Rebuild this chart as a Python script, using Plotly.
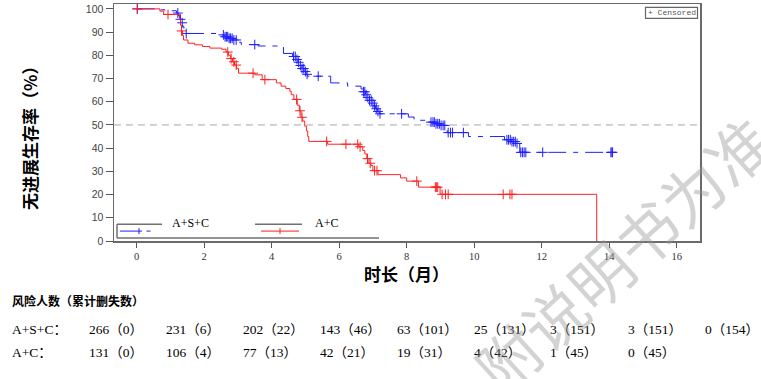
import plotly.graph_objects as go

# ---------------- data ----------------
# A+S+C Kaplan-Meier steps (time in months, survival %)
asc_t = [0, 0.54, 0.84, 1.18, 1.24, 1.28, 1.32, 1.36, 1.40, 1.46, 2.47, 2.60, 2.72, 2.85, 2.97, 3.10,
         3.60, 4.35, 4.62, 4.72, 4.78, 4.84, 4.90, 4.96, 5.02, 5.06, 5.75, 6.25, 6.65, 6.72, 6.78,
         6.84, 6.90, 6.96, 7.02, 7.08, 7.14, 7.20, 8.05, 8.22, 8.70, 8.85, 9.00, 9.15, 9.20, 9.83,
         10.90, 11.10, 11.25, 11.35, 14.10]
asc_s = [100, 99.6, 99.2, 98.2, 97.0, 95.5, 94.0, 92.5, 91.0, 89.4, 88.8, 88.0, 87.3, 86.6, 85.6, 84.6,
         84.0, 80.8, 79.5, 78.2, 77.0, 75.6, 74.3, 73.0, 71.8, 71.0, 68.1, 66.7, 65.5, 64.3, 63.0,
         61.8, 60.6, 59.4, 58.2, 57.0, 55.8, 54.8, 53.4, 52.0, 51.2, 50.5, 49.8, 49.2, 46.7, 45.0,
         43.6, 42.8, 42.0, 38.2, 38.2]
asc_cens = [0.02, 1.22, 1.30, 1.35, 1.47, 2.57, 2.62, 2.66, 2.70, 2.74, 2.78, 2.83, 2.88, 2.95, 3.50,
            4.65, 4.70, 4.75, 4.80, 4.85, 4.90, 4.95, 5.00, 5.05, 5.38, 6.72, 6.76, 6.80, 6.85, 6.90,
            6.95, 7.00, 7.05, 7.10, 7.15, 7.21, 7.85, 8.72, 8.78, 8.82, 8.87, 8.92, 8.97, 9.02, 9.08,
            9.13, 9.23, 9.30, 9.36, 9.68, 10.97, 11.02, 11.07, 11.12, 11.17, 11.22, 11.27, 11.38,
            11.43, 11.48, 11.53, 12.03, 14.05, 14.08, 14.10]

# A+C Kaplan-Meier steps
ac_t = [0, 0.69, 0.80, 1.28, 1.30, 1.33, 1.36, 1.39, 1.52, 1.72, 1.95, 2.17, 2.52, 2.65, 2.72, 2.78,
        2.84, 2.90, 2.96, 3.02, 3.50, 3.72, 4.14, 4.28, 4.42, 4.54, 4.58, 4.66, 4.76, 4.82, 4.87,
        4.92, 4.98, 5.03, 5.07, 5.10, 5.66, 6.58, 6.70, 6.76, 6.82, 6.88, 6.94, 7.00, 7.15, 7.82,
        8.00, 8.35, 8.99, 13.63]
ac_s = [100, 99.0, 97.6, 95.5, 93.0, 90.5, 88.5, 86.6, 85.2, 84.5, 83.8, 83.1, 82.6, 81.4, 80.0, 78.6,
        77.2, 75.8, 74.4, 72.3, 71.6, 69.5, 68.1, 66.7, 65.7, 64.5, 63.0, 61.0, 58.5, 56.1, 53.3,
        51.7, 49.5, 47.4, 45.0, 42.9, 41.7, 40.6, 39.0, 37.5, 35.5, 33.5, 32.5, 30.3, 28.6, 27.2,
        25.8, 23.2, 20.1, 0]
ac_cens = [0.02, 0.93, 1.33, 2.70, 2.80, 2.88, 2.95, 3.45, 3.80, 4.74, 4.84, 4.90, 5.63, 6.20, 6.55,
           6.62, 6.84, 6.92, 7.05, 7.12, 8.30, 8.85, 8.88, 8.92, 9.05, 9.15, 9.23, 10.86, 11.06, 11.12]

x_ticks = [0, 2, 4, 6, 8, 10, 12, 14, 16]
y_ticks = [0, 10, 20, 30, 40, 50, 60, 70, 80, 90, 100]

group_names = ["A+S+C", "A+C"]
asc_risk = [266, 231, 202, 143, 63, 25, 3, 3, 0]
asc_censn = [0, 6, 22, 46, 101, 131, 151, 151, 154]
ac_risk = [131, 106, 77, 42, 19, 4, 1, 0]
ac_censn = [0, 4, 13, 21, 31, 42, 45, 45]

BLUE = "#1f1fff"
RED = "#ff2020"

# ---------------- geometry helpers ----------------
W, H = 761, 379
PL, PR, PT, PB = 114, 700, 2, 241


def xp(px):
    return (px - PL) / (PR - PL)


def yp(py):
    return (PB - py) / (PB - PT)


def step_at(ts, ss, t):
    v = ss[0]
    for ti, si in zip(ts, ss):
        if ti <= t:
            v = si
    return v


fig = go.Figure()

fig.add_trace(go.Scatter(x=asc_t, y=asc_s, mode="lines", line_shape="hv",
                         line=dict(color=BLUE, width=1, dash="18px,7px,5px,7px"),
                         showlegend=False, hoverinfo="skip"))
fig.add_trace(go.Scatter(x=asc_cens, y=[step_at(asc_t, asc_s, t) for t in asc_cens], mode="markers",
                         marker=dict(symbol="cross-thin", size=7, line=dict(color=BLUE, width=1)),
                         showlegend=False))
fig.add_trace(go.Scatter(x=ac_t, y=ac_s, mode="lines", line_shape="hv",
                         line=dict(color=RED, width=1), showlegend=False, hoverinfo="skip"))
fig.add_trace(go.Scatter(x=ac_cens, y=[step_at(ac_t, ac_s, t) for t in ac_cens], mode="markers",
                         marker=dict(symbol="cross-thin", size=7, line=dict(color=RED, width=1)),
                         showlegend=False))

shapes = []
# 50% reference line
shapes.append(dict(type="line", xref="paper", yref="y", x0=0, x1=1, y0=50, y1=50,
                   line=dict(color="#a8a8a8", width=1, dash="7px,5px"), layer="below"))

GRAY = "#707070"


def seg(x0, y0, x1, y1, color, width):
    return dict(type="line", xref="paper", yref="paper", x0=xp(x0), x1=xp(x1), y0=yp(y0), y1=yp(y1),
                line=dict(color=color, width=width))


# legend frame pieces
shapes += [seg(117, 224, 117, 238, GRAY, 1.5), seg(117, 238, 379, 238, GRAY, 1.5),
           seg(117, 224, 162, 224, GRAY, 1.5), seg(255, 224, 302, 224, GRAY, 1.5)]
# legend samples
shapes += [seg(120, 231, 142, 231, BLUE, 1), seg(146.5, 231, 150.5, 231, BLUE, 1),
           seg(139, 228, 139, 234, BLUE, 1),
           seg(261, 231, 299, 231, RED, 1), seg(280, 228, 280, 234, RED, 1)]
# censored box
shapes.append(dict(type="rect", xref="paper", yref="paper", x0=xp(645.5), x1=xp(697.5), y0=yp(16.5), y1=yp(5.5),
                   line=dict(color="#666666", width=1.2), fillcolor="white"))


def label(text, px, py, size, family, xanchor="center", angle=0, color="black"):
    return dict(text=text, x=xp(px), y=yp(py), xref="paper", yref="paper", showarrow=False,
                xanchor=xanchor, yanchor="middle", textangle=angle,
                font=dict(family=family, size=size, color=color))


ann = []
ann.append(label("A+S+C", 190, 222.5, 12, "Liberation Serif"))
ann.append(label("A+C", 326.5, 222.5, 12, "Liberation Serif"))
ann.append(label("+ Censored", 671.5, 11, 8, "Liberation Mono", color="#555555"))
# axis titles
ann.append(label("<b>时长（月）</b>", 406, 274, 17, "Noto Sans CJK SC"))
ann.append(label("<b>无进展生存率（%）</b>", 30, 133, 17, "Noto Sans CJK SC", angle=-90))
# risk table
ann.append(label("<b>风险人数（累计删失数）</b>", 10, 301.5, 12, "Noto Sans CJK SC", xanchor="left"))
col_px = [87, 163.5, 241, 318, 395, 472, 548, 625.5, 703]
TF = "Liberation Serif, Noto Sans CJK SC"
for name, risk, cens, py in [(group_names[0], asc_risk, asc_censn, 330), (group_names[1], ac_risk, ac_censn, 353)]:
    ann.append(label(name + "：", 10, py, 13.5, TF, xanchor="left"))
    for r, c, cx in zip(risk, cens, col_px):
        ann.append(label(f"{r}（{c}）", cx, py, 13.5, TF, xanchor="left"))
# watermark
ann.append(label("附说明书为准", 622, 253, 62, "Noto Sans CJK SC", angle=-42.3,
                 color="rgba(150,150,150,0.42)"))

fig.update_layout(
    width=W, height=H,
    margin=dict(l=PL, r=W - PR, t=PT, b=H - PB),
    paper_bgcolor="white", plot_bgcolor="white",
    showlegend=False, hovermode=False,
    shapes=shapes, annotations=ann,
    xaxis=dict(range=[-0.67, 16.69], tickvals=x_ticks, ticktext=[str(v) for v in x_ticks],
               ticks="outside", ticklen=5, tickcolor="#555555", showline=True, mirror=True,
               linecolor="#6a6a6a", linewidth=1.5, showgrid=False, zeroline=False,
               tickfont=dict(family="Liberation Serif", size=10.5, color="#333333")),
    yaxis=dict(range=[0, 102.1], tickvals=y_ticks, ticktext=[str(v) for v in y_ticks],
               ticks="outside", ticklen=7, tickcolor="#555555", showline=True, mirror=True,
               linecolor="#6a6a6a", linewidth=1.5, showgrid=False, zeroline=False,
               tickfont=dict(family="Liberation Sans", size=10.5, color="#444444")),
)

fig.write_html("out.html", config={"displayModeBar": False, "staticPlot": True},
               post_script="document.body.style.margin='0';document.body.style.overflow='hidden';")
